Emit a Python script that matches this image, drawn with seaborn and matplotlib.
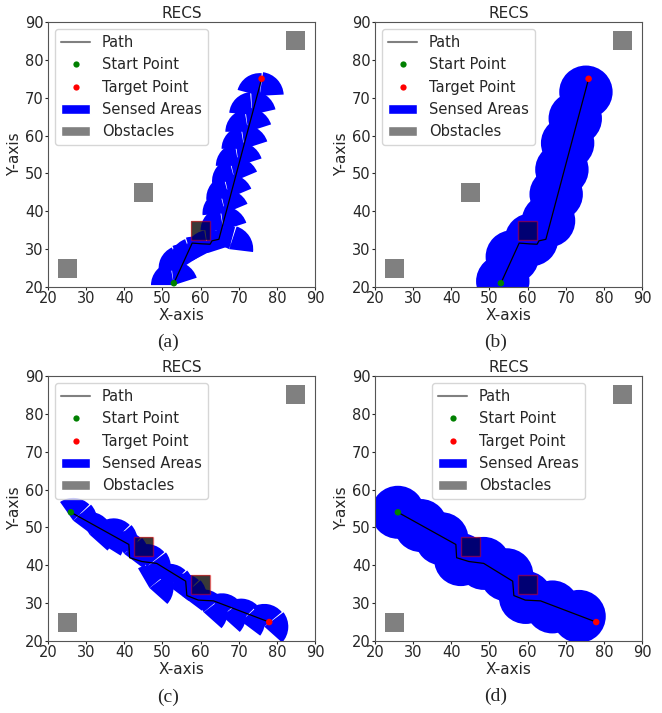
import numpy as np
import pandas as pd
import matplotlib
matplotlib.use('Agg')
import matplotlib.pyplot as plt
import seaborn as sns
from matplotlib.patches import Wedge, Circle, Rectangle, Patch
from matplotlib.lines import Line2D

sns.set_style("ticks")
plt.rcParams['font.family'] = ['DejaVu Sans']

# ---- data ----
obs_x = [25, 45, 60, 85]
obs_y = [25, 45, 35, 85]

# path for (a)/(b)
path1_x = [53, 57.8, 60.4, 62.5, 63.0, 64.8, 76]
path1_y = [21, 31.6, 31.4, 31.3, 32.2, 32.6, 75]
# path for (c)/(d)
path2_x = [26, 41.2, 41.4, 44.6, 48.5, 56.1, 56.4, 59.4, 63.4, 78]
path2_y = [54, 45.5, 42.0, 41.0, 40.5, 35.8, 32.0, 30.8, 30.6, 25]

# wedge sensing (a): apex x, y, heading
wa_x = [53, 55, 58, 62, 67.5, 66, 66.5, 67.5, 69, 70, 71.5, 72.5, 73.5, 75.5]
wa_y = [20.5, 25, 27, 29, 30, 35, 39.5, 43.5, 48, 52, 56.5, 61, 65.5, 70.5]
wa_h = [100, 115, 110, 100, 75, 100, 105, 105, 105, 100, 100, 100, 95, 85]

# wedge sensing (c)
wc_x = [26.6, 30.9, 33.7, 37.2, 40, 45.9, 46.6, 51.8, 55.3, 60.8, 65.6, 70.6, 76.7]
wc_y = [51.8, 48.1, 45.9, 46.4, 43.0, 39.6, 34.0, 34.4, 31.8, 27.6, 26.6, 25.2, 23.8]
wc_h = [45, 40, 50, 45, 45, 40, 40, 45, 45, 40, 40, 45, 40]

# circles (b) and (d)
cb_x = [53.5, 56, 61, 65.5, 67.5, 69, 70.5, 72.5, 75.3]
cb_y = [21.5, 28, 32.5, 37.5, 44.5, 51, 58, 64.5, 71.5]
cd_x = [26, 32, 37.5, 42.5, 48.5, 54.5, 59.5, 66.5, 73.5]
cd_y = [54, 50.5, 47, 41.5, 40.5, 37.5, 31.5, 29, 26.5]

hit_ab = [2]
hit_cd = [1, 2]

OBS = 5
R_W = 6.0
R_C = 7.0
BLUE = '#0000ff'


def draw_panel(ax, px, py, kind, sx, sy, sh, hits, legend_loc):
    for ox, oy in zip(obs_x, obs_y):
        ax.add_patch(Rectangle((ox - OBS / 2, oy - OBS / 2), OBS, OBS,
                               facecolor='gray', edgecolor='none', zorder=1))
    if kind == 'wedge':
        for x, y, h in zip(sx, sy, sh):
            ax.add_patch(Wedge((x, y), R_W, h, h + 80, facecolor=BLUE,
                               edgecolor='none', zorder=2))
            ax.add_patch(Wedge((x, y), R_W * 1.05, h - 82, h - 3, facecolor=BLUE,
                               edgecolor='none', zorder=2))
    else:
        for x, y in zip(sx, sy):
            ax.add_patch(Circle((x, y), R_C, facecolor=BLUE, edgecolor='none', zorder=2))
    for i in hits:
        ax.add_patch(Rectangle((obs_x[i] - OBS / 2, obs_y[i] - OBS / 2), OBS, OBS,
                               facecolor=(0, 0, 0, 0.55), edgecolor=(1, 0, 0, 0.45),
                               linewidth=1, zorder=3))
    df = pd.DataFrame({'x': px, 'y': py})
    sns.lineplot(data=df, x='x', y='y', sort=False, color='black', linewidth=0.9,
                 ax=ax, zorder=4)
    sns.scatterplot(x=[px[0]], y=[py[0]], color='green', s=22, edgecolor='none', ax=ax, zorder=5)
    sns.scatterplot(x=[px[-1]], y=[py[-1]], color='red', s=22, edgecolor='none', ax=ax, zorder=5)

    ax.set_xlim(20, 90)
    ax.set_ylim(20, 90)
    ax.set_xticks(range(20, 91, 10))
    ax.set_yticks(range(20, 91, 10))
    ax.tick_params(labelsize=10.5, length=2, width=0.8, pad=1)
    ax.set_xlabel('X-axis', fontsize=11, labelpad=1)
    ax.set_ylabel('Y-axis', fontsize=11, labelpad=2)
    ax.set_title('RECS', fontsize=11, pad=3)
    for sp in ax.spines.values():
        sp.set_visible(True)
        sp.set_linewidth(0.8)
        sp.set_color('#555555')

    handles = [Line2D([0], [0], color='gray', lw=1.5),
               Line2D([0], [0], marker='o', color='none', markerfacecolor='green',
                      markeredgecolor='none', markersize=4.5),
               Line2D([0], [0], marker='o', color='none', markerfacecolor='red',
                      markeredgecolor='none', markersize=4.5),
               Patch(facecolor=BLUE),
               Patch(facecolor='gray')]
    labels = ['Path', 'Start Point', 'Target Point', 'Sensed Areas', 'Obstacles']
    ax.legend(handles, labels, loc=legend_loc, fontsize=10.5, frameon=True,
              borderaxespad=0.5, handletextpad=0.8)


fig = plt.figure(figsize=(6.62, 7.13), dpi=100)
W, H = 662, 713
boxes = {'a': (48, 22), 'b': (375, 22), 'c': (48, 376), 'd': (375, 376)}
axes = {}
for k, (l, t) in boxes.items():
    axes[k] = fig.add_axes([l / W, 1 - (t + 265) / H, 267 / W, 265 / H])

draw_panel(axes['a'], path1_x, path1_y, 'wedge', wa_x, wa_y, wa_h, hit_ab, 'upper left')
draw_panel(axes['b'], path1_x, path1_y, 'circle', cb_x, cb_y, None, hit_ab, 'upper left')
draw_panel(axes['c'], path2_x, path2_y, 'wedge', wc_x, wc_y, wc_h, hit_cd, 'upper left')
draw_panel(axes['d'], path2_x, path2_y, 'circle', cd_x, cd_y, None, hit_cd, 'upper center')

captions = [('(a)', 168, 342), ('(b)', 496, 342), ('(c)', 168, 697), ('(d)', 496, 696)]
for txt, x, y in captions:
    fig.text(x / W, 1 - y / H, txt, ha='center', va='center', fontsize=14,
             family=['Liberation Serif', 'DejaVu Serif'])

fig.savefig('out.png', dpi=100)
